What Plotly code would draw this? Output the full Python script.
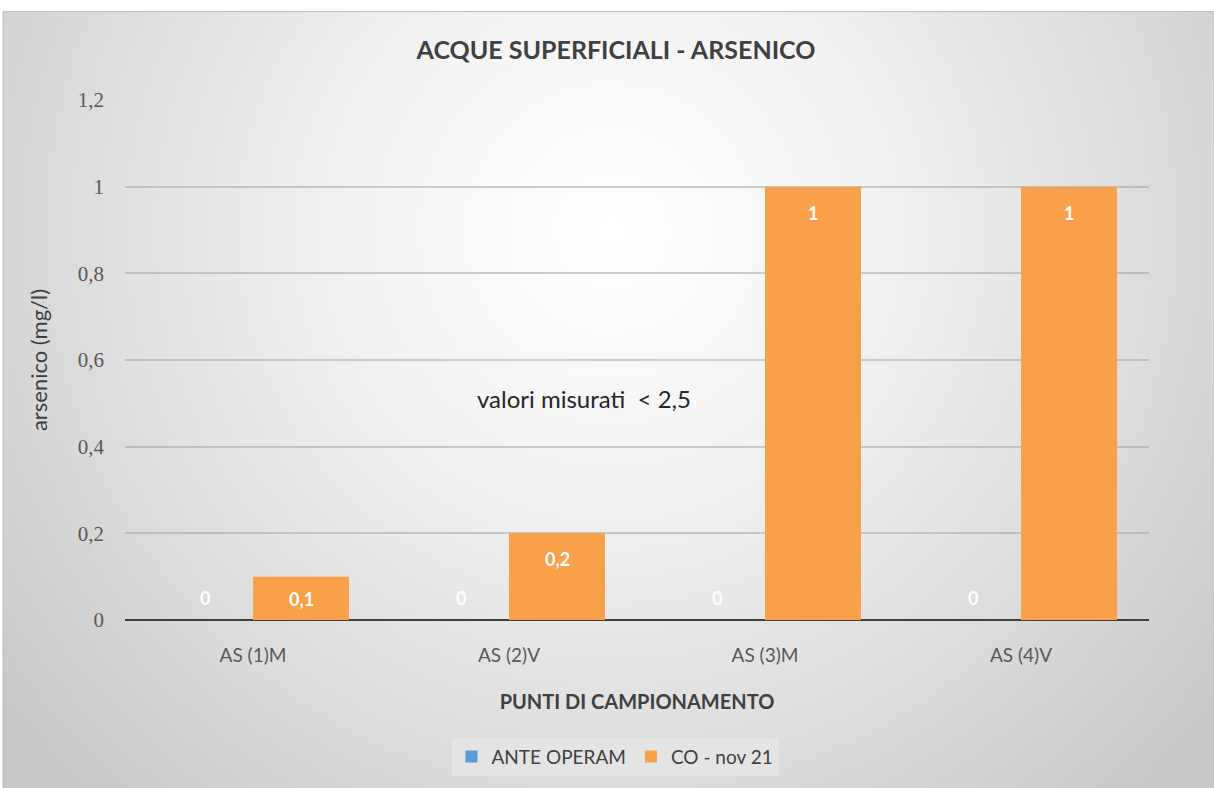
import base64
import plotly.graph_objects as go

categories = ["AS (1)M", "AS (2)V", "AS (3)M", "AS (4)V"]
ante_operam = [0, 0, 0, 0]
co_nov21 = [0.1, 0.2, 1, 1]
series_names = ["ANTE OPERAM", "CO - nov 21"]
y_ticks = [0, 0.2, 0.4, 0.6, 0.8, 1, 1.2]
y_max = 1.2
title_text = "ACQUE SUPERFICIALI - ARSENICO"
note_text = "valori misurati  < 2,5"

W, H = 1214, 788
L, R, T, B = 125, 65, 100, 159
pw, ph = W - L - R, H - T - B

BLUE = "#5B9BD5"
ORANGE = "#F8A04A"
FONT = "Lato"
TICKFONT = "Liberation Serif"

svg = f'''<svg xmlns="http://www.w3.org/2000/svg" width="{W}" height="{H}" viewBox="0 0 {W} {H}">
<defs><radialGradient id="g" gradientUnits="userSpaceOnUse" cx="610" cy="220" r="780">
<stop offset="0" stop-color="#ffffff"/><stop offset="0.3" stop-color="#f4f4f4"/>
<stop offset="0.7" stop-color="#dcdcdc"/><stop offset="1" stop-color="#c8c8c8"/></radialGradient></defs>
<rect x="0" y="0" width="{W}" height="{H}" fill="url(#g)"/></svg>'''
src = "data:image/svg+xml;base64," + base64.b64encode(svg.encode()).decode()

fig = go.Figure()
fig.add_trace(go.Bar(x=categories, y=ante_operam, name=series_names[0],
                     marker=dict(color=BLUE, line=dict(width=0))))
fig.add_trace(go.Bar(x=categories, y=co_nov21, name=series_names[1],
                     marker=dict(color=ORANGE, line=dict(width=0))))

def fmt(v):
    return ("%g" % v).replace(".", ",")

annotations = []
for cat, a, c in zip(categories, ante_operam, co_nov21):
    for val, xs in ((a, -48), (c, 48)):
        bar_px = val / y_max * ph
        ys = -min(26, bar_px - 22)
        annotations.append(dict(x=cat, y=val, xref="x", yref="y", text="<b>%s</b>" % fmt(val),
                                showarrow=False, xshift=xs, yshift=ys,
                                font=dict(family=FONT, size=18, color="white")))
annotations.append(dict(x=0.448, y=0.426, xref="paper", yref="paper", text=note_text,
                        showarrow=False, font=dict(family=FONT, size=24, color="#262626")))

# frame geometry in paper coords
fx0 = (3 - L) / pw
fx1 = (W - L) / pw
fy1 = 1 + (T - 10) / ph
fy0 = -(B + 20) / ph

fig.update_layout(
    width=W, height=H,
    margin=dict(l=L, r=R, t=T, b=B, pad=0),
    paper_bgcolor="white", plot_bgcolor="rgba(0,0,0,0)",
    separators=",.",
    barmode="group", bargap=0.25, bargroupgap=0,
    title=dict(text="<b>" + title_text + "</b>", x=616 / W, xref="container", xanchor="center",
               y=1 - 50 / H, yanchor="middle",
               font=dict(family=FONT, size=25, color="#404040")),
    xaxis=dict(showgrid=False, showline=False, zeroline=False, ticks="",
               ticklabelstandoff=22,
               tickfont=dict(family=FONT, size=19, color="#595959"),
               title=dict(text="<b>PUNTI DI CAMPIONAMENTO</b>", standoff=29,
                          font=dict(family=FONT, size=20, color="#404040"))),
    yaxis=dict(range=[0, y_max], tickvals=y_ticks, showgrid=True,
               gridcolor="rgba(160,160,160,0.5)", gridwidth=2,
               zeroline=True, zerolinecolor="#404040", zerolinewidth=2,
               showline=False, ticks="", ticklabelstandoff=20,
               tickfont=dict(family=TICKFONT, size=21, color="#595959"),
               title=dict(text="arsenico (mg/l)", standoff=24,
                          font=dict(family=FONT, size=22, color="#404040"))),
    legend=dict(orientation="h", x=(615 - L) / pw, xanchor="center", y=-(768 - T - ph) / ph,
                yanchor="middle", bgcolor="#e4e4e4", borderwidth=0,
                font=dict(family=FONT, size=19, color="#404040"),
                itemwidth=30, traceorder="normal"),
    annotations=annotations,
    images=[dict(source=src, xref="paper", yref="paper", x=fx0, y=fy1,
                 sizex=fx1 - fx0, sizey=fy1 - fy0, sizing="stretch",
                 xanchor="left", yanchor="top", layer="below")],
)
fig.add_shape(type="rect", xref="paper", yref="paper", x0=fx0, x1=fx1, y0=fy0, y1=fy1,
              line=dict(color="#bdbdbd", width=1), layer="below")

fig.write_html("out.html", config={"displayModeBar": False},
               post_script="document.body.style.margin='0';")
